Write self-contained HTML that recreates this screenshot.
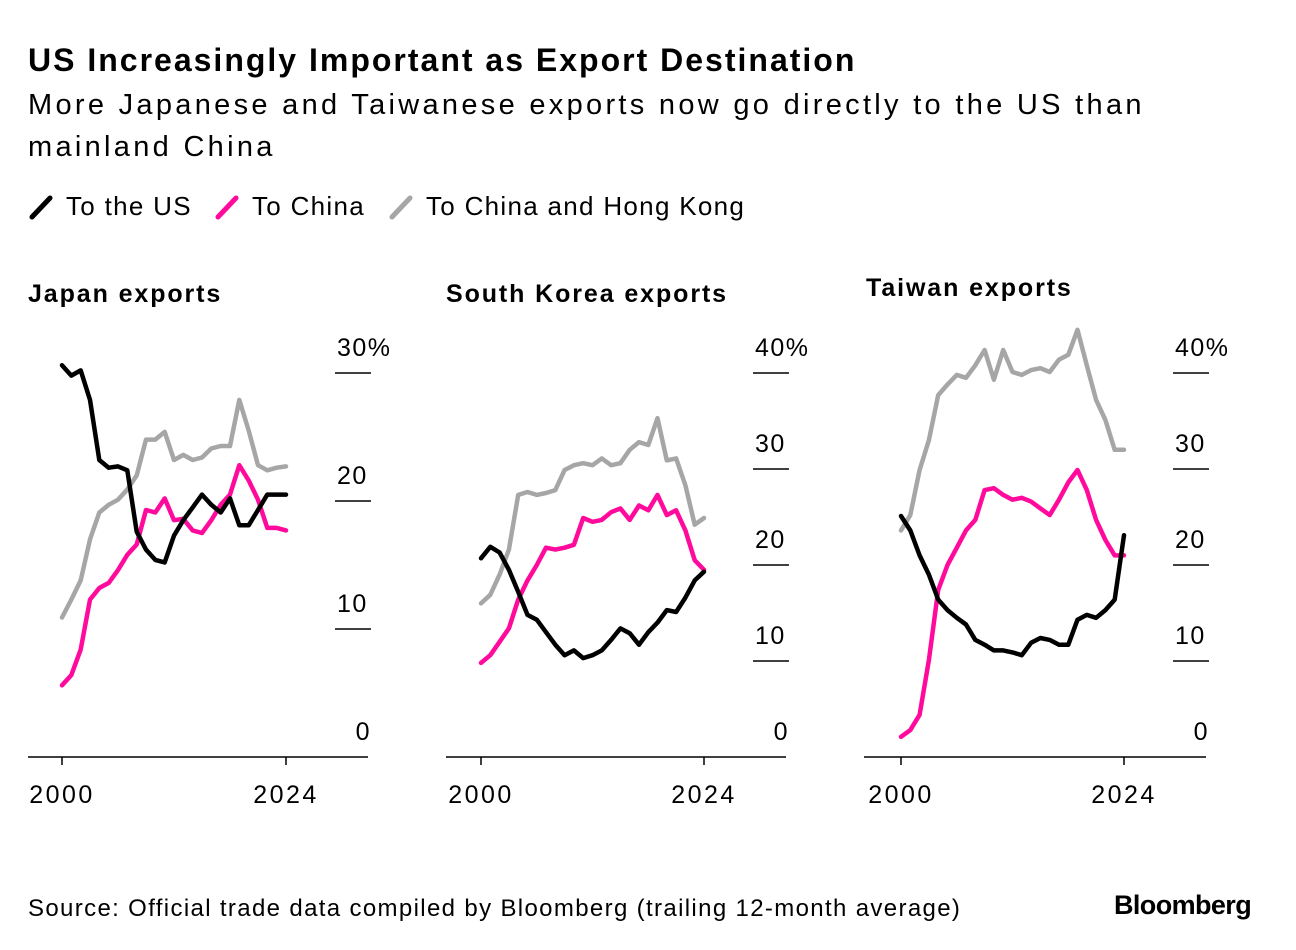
<!DOCTYPE html>
<html><head><meta charset="utf-8"><style>
html,body{margin:0;padding:0;background:#fff;width:1296px;height:950px;overflow:hidden}
body{font-family:"Liberation Sans",sans-serif;color:#000;position:relative}
.t{position:absolute;white-space:nowrap}
</style></head><body>
<div class="t" style="left:28px;top:42px;font-size:32px;font-weight:bold;letter-spacing:2px">US Increasingly Important as Export Destination</div>
<div class="t" style="left:28px;top:84px;font-size:29px;line-height:42px;letter-spacing:3.3px">More Japanese and Taiwanese exports now go directly to the US than<br>mainland China</div>
<svg id="chart" width="1296" height="950" style="position:absolute;left:0;top:0"></svg>
<div class="t" style="left:28px;top:895px;font-size:24px;letter-spacing:1.35px">Source: Official trade data compiled by Bloomberg (trailing 12-month average)</div>
<div class="t" style="left:1114px;top:890px;font-size:27px;font-weight:bold;letter-spacing:-0.6px">Bloomberg</div>
<script>
const years=[2000,2001,2002,2003,2004,2005,2006,2007,2008,2009,2010,2011,2012,2013,2014,2015,2016,2017,2018,2019,2020,2021,2022,2023,2024];
const japanUS=[30.6,29.8,30.2,27.9,23.2,22.6,22.7,22.4,17.6,16.2,15.4,15.2,17.3,18.5,19.5,20.5,19.7,19.1,20.2,18.1,18.1,19.3,20.5,20.5,20.5];
const japanCN=[5.6,6.4,8.4,12.3,13.2,13.6,14.6,15.8,16.6,19.3,19.1,20.2,18.5,18.6,17.7,17.5,18.5,19.7,20.5,22.8,21.6,20.1,17.9,17.9,17.7];
const japanHK=[10.9,12.3,13.8,17,19.1,19.7,20.1,20.9,22,24.8,24.8,25.4,23.2,23.6,23.2,23.4,24.1,24.3,24.3,27.9,25.5,22.8,22.4,22.6,22.7];
const koreaUS=[20.7,21.9,21.3,19.5,17.2,14.8,14.3,13,11.7,10.6,11.1,10.3,10.6,11.1,12.2,13.4,12.9,11.7,13,14,15.3,15.1,16.6,18.4,19.3];
const koreaCN=[9.8,10.6,12,13.4,16.4,18.4,20,21.8,21.6,21.8,22.1,24.9,24.5,24.7,25.5,25.9,24.7,26.2,25.7,27.3,25.2,25.7,23.6,20.5,19.5];
const koreaHK=[16,16.9,19,21.6,27.3,27.6,27.3,27.5,27.8,29.9,30.4,30.6,30.4,31.1,30.4,30.6,32,32.8,32.5,35.3,30.9,31.1,28.3,24.2,24.9];
const taiwanUS=[25.1,23.6,21,19,16.4,15.3,14.5,13.8,12.2,11.7,11.1,11.1,10.9,10.6,11.9,12.4,12.2,11.7,11.7,14.3,14.8,14.5,15.3,16.4,23.1];
const taiwanCN=[2.1,2.8,4.4,10.1,17.4,20,21.8,23.6,24.7,27.8,28,27.3,26.8,27,26.6,25.9,25.2,26.8,28.6,29.9,27.8,24.7,22.6,21,21];
const taiwanHK=[23.6,25.2,29.9,33,37.7,38.8,39.8,39.5,40.8,42.4,39.3,42.4,40.1,39.8,40.3,40.5,40.1,41.4,41.9,44.5,40.8,37.2,35.1,32,32];
const panels=[
 {name:'japan',title:'Japan exports',tx:28,ty:302,ax0:28,ax1:368,x0:62,x1:286,max:30,step:10,ppu:12.8,tickX:335,s:[japanHK,japanCN,japanUS]},
 {name:'south-korea',title:'South Korea exports',tx:446,ty:302,ax0:446,ax1:786,x0:481,x1:704,max:40,step:10,ppu:9.6,tickX:753,s:[koreaHK,koreaCN,koreaUS]},
 {name:'taiwan',title:'Taiwan exports',tx:866,ty:296,ax0:864,ax1:1206,x0:901,x1:1124,max:40,step:10,ppu:9.6,tickX:1173,s:[taiwanHK,taiwanCN,taiwanUS]}];
const colors=['#a6a6a6','#ff0a9c','#000'];
const sNames=['china-hk-line','china-line','us-line'];
const svg=document.getElementById('chart');const NS='http://www.w3.org/2000/svg';
function mk(t,a,p){const e=document.createElementNS(NS,t);for(const k in a)e.setAttribute(k,a[k]);(p||svg).appendChild(e);return e;}
const leg=[['To the US','#000',28],['To China','#ff0a9c',214],['To China and Hong Kong','#a6a6a6',388]];
leg.forEach(l=>{const g=mk('g',{});


mk('line',{x1:l[2]+4,y1:217,x2:l[2]+22,y2:198,stroke:l[1],'stroke-width':5,'stroke-linecap':'round'},g);
const t=mk('text',{x:l[2]+38,y:215,'font-size':26,fill:'#000','letter-spacing':1.3},g);t.textContent=l[0];});
const AY=757;
panels.forEach(p=>{const g=mk('g',{});


const xs=y=>p.x0+(y-years[0])/(years[years.length-1]-years[0])*(p.x1-p.x0);
const ys=v=>AY-v*p.ppu;
const tt=mk('text',{x:p.tx,y:p.ty,'font-size':25,'font-weight':'bold',fill:'#000','letter-spacing':1.9},g);tt.textContent=p.title;

mk('line',{x1:p.ax0,y1:AY,x2:p.ax1,y2:AY,stroke:'#000','stroke-width':1.5},g);
for(let v=0;v<=p.max;v+=p.step){
 if(v>0)mk('line',{x1:p.tickX,y1:ys(v),x2:p.tickX+36,y2:ys(v),stroke:'#000','stroke-width':1.5},g);
 const t=mk('text',{x:v===0?p.tickX+36:p.tickX+2,y:ys(v)-17,'font-size':25,fill:'#000','letter-spacing':1.5,'text-anchor':v===0?'end':'start'},g);
 t.textContent=v+(v===p.max?'%':'');
 }
[2000,2024].forEach(y=>{mk('line',{x1:xs(y),y1:AY,x2:xs(y),y2:AY+8,stroke:'#000','stroke-width':1.5},g);
 const t=mk('text',{x:xs(y),y:AY+46,'font-size':25,fill:'#000','letter-spacing':2.5,'text-anchor':'middle'},g);t.textContent=y;
 });
p.s.forEach((arr,i)=>{const d=arr.map((v,j)=>(j?'L':'M')+xs(years[j]).toFixed(1)+','+ys(v).toFixed(1)).join('');
 const path=mk('path',{d:d,fill:'none',stroke:colors[i],'stroke-width':4.5,'stroke-linejoin':'round','stroke-linecap':'round'},g);
 
 });
});
</script>
</body></html>
